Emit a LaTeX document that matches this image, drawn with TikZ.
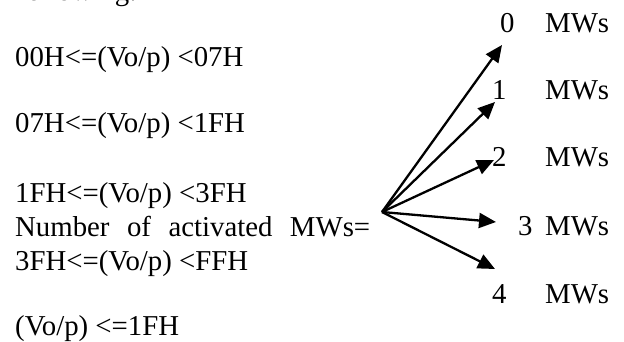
\documentclass[tikz,border=0pt]{standalone}
\usepackage{fontspec}
\setmainfont{Liberation Serif}
\usetikzlibrary{arrows.meta}
\begin{document}
\begin{tikzpicture}[x=1pt,y=-1pt,
  txt/.style={inner sep=0pt,anchor=base west,font=\fontsize{28.8}{33}\selectfont},
  arr/.style={line width=2.3pt,-{Triangle[length=17pt,width=15pt]}}]
\useasboundingbox (0,0) rectangle (624,342);
\node[txt] (top) at (17,0.5) {following:};
\node[txt] (c1) at (15,67) {00H<=(Vo/p) <07H};
\node[txt] (c2) at (15,133) {07H<=(Vo/p) <1FH};
\node[txt] (c3) at (15,203) {1FH<=(Vo/p) <3FH};
\node[txt] (num) at (15,236) {\makebox[355pt][s]{Number of activated MWs=}};
\node[txt] (c4) at (15,270) {3FH<=(Vo/p) <FFH};
\node[txt] (c5) at (15,335) {(Vo/p) <=1FH};
% right labels
\node[txt] (d0) at (500,33) {0};
\node[txt] (m0) at (545,33) {MWs};
\node[txt] (d1) at (492,100) {1};
\node[txt] (m1) at (545,100) {MWs};
\node[txt] (d2) at (492,167) {2};
\node[txt] (m2) at (545,167) {MWs};
\node[txt] (d3) at (518,235) {3};
\node[txt] (m3) at (545,235) {MWs};
\node[txt] (d4) at (492,303) {4};
\node[txt] (m4) at (545,303) {MWs};
% arrows
\coordinate (o) at (382,212);
\coordinate (t0) at (502,45);
\coordinate (t1) at (495,102);
\coordinate (t2) at (494,160);
\coordinate (t3) at (496,222);
\coordinate (t4) at (495,269);
\foreach \i in {0,...,4} {\draw[arr] (o) -- (t\i);}
\end{tikzpicture}
\end{document}
